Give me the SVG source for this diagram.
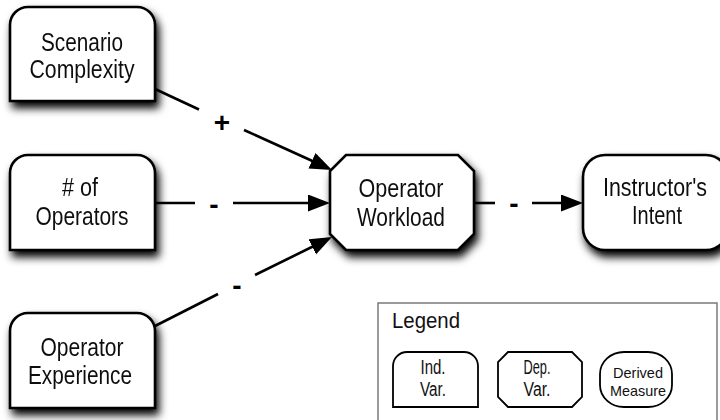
<svg xmlns="http://www.w3.org/2000/svg" width="720" height="420" viewBox="0 0 720 420">
  <defs>
    <filter id="shadow" x="-20%" y="-20%" width="150%" height="160%">
      <feGaussianBlur in="SourceAlpha" stdDeviation="4"/>
      <feOffset dx="3" dy="6" result="blur"/>
      <feComponentTransfer><feFuncA type="linear" slope="1"/></feComponentTransfer>
      <feMerge><feMergeNode/><feMergeNode in="SourceGraphic"/></feMerge>
    </filter>
    <marker id="arrow" markerUnits="userSpaceOnUse" markerWidth="24" markerHeight="18" refX="12" refY="8.5" orient="auto">
      <path d="M0,0 L22,8.5 L0,17 z" fill="#000"/>
    </marker>
    <style>
      .node { fill: #fff; stroke: #000; stroke-width: 2.6; }
      .leg { fill: #fff; stroke: #000; stroke-width: 1.8; }
      .lbl { font-family: "Liberation Sans", Arial, sans-serif; font-size: 26px; fill: #111; text-anchor: middle; }
      .leglbl { font-family: "Liberation Sans", Arial, sans-serif; font-size: 20px; fill: #111; text-anchor: middle; }
      .small { font-family: "Liberation Sans", Arial, sans-serif; font-size: 15px; fill: #111; text-anchor: middle; }
      .sign { font-family: "Liberation Sans", Arial, sans-serif; font-size: 28px; font-weight: bold; fill: #000; text-anchor: middle; }
      .edge { stroke: #000; stroke-width: 2.6; fill: none; }
    </style>
  </defs>

  <rect width="720" height="420" fill="#fff"/>

  <!-- connectors -->
  <g id="connectors">
    <line class="edge" x1="155" y1="89" x2="199" y2="109.5"/>
    <line class="edge" x1="244" y1="130" x2="322.9" y2="165.8" marker-end="url(#arrow)"/>
    <text class="sign" x="222" y="132">+</text>

    <line class="edge" x1="155" y1="203" x2="195" y2="203"/>
    <line class="edge" x1="233" y1="203" x2="320" y2="203" marker-end="url(#arrow)"/>
    <text class="sign" x="214" y="214">-</text>

    <line class="edge" x1="155" y1="326" x2="218" y2="294"/>
    <line class="edge" x1="255" y1="275" x2="323" y2="241.5" marker-end="url(#arrow)"/>
    <text class="sign" x="237" y="295">-</text>

    <line class="edge" x1="474" y1="203" x2="495" y2="203"/>
    <line class="edge" x1="532" y1="203" x2="573" y2="203" marker-end="url(#arrow)"/>
    <text class="sign" x="514" y="213">-</text>
  </g>

  <!-- independent variables: rounded top, square bottom -->
  <g id="scenario-complexity" filter="url(#shadow)">
    <path class="node" d="M10,101 V25 A18,18 0 0 1 28,7 H137 A18,18 0 0 1 155,25 V101 Z"/>
    <text class="lbl" x="82" y="51" textLength="82" lengthAdjust="spacingAndGlyphs">Scenario</text>
    <text class="lbl" x="82" y="78" textLength="105" lengthAdjust="spacingAndGlyphs">Complexity</text>
  </g>

  <g id="num-operators" filter="url(#shadow)">
    <path class="node" d="M10,250 V173 A18,18 0 0 1 28,155 H137 A18,18 0 0 1 155,173 V250 Z"/>
    <text class="lbl" x="80" y="196" textLength="36" lengthAdjust="spacingAndGlyphs"># of</text>
    <text class="lbl" x="82" y="225" textLength="93" lengthAdjust="spacingAndGlyphs">Operators</text>
  </g>

  <g id="operator-experience" filter="url(#shadow)">
    <path class="node" d="M10,408 V331 A18,18 0 0 1 28,313 H137 A18,18 0 0 1 155,331 V408 Z"/>
    <text class="lbl" x="82" y="356" textLength="83" lengthAdjust="spacingAndGlyphs">Operator</text>
    <text class="lbl" x="80" y="384" textLength="104" lengthAdjust="spacingAndGlyphs">Experience</text>
  </g>

  <!-- dependent variable: octagon -->
  <g id="operator-workload" filter="url(#shadow)">
    <path class="node" d="M346,155 H458 L474,171 V234 L458,250 H346 L330,234 V171 Z"/>
    <text class="lbl" x="401" y="197" textLength="85" lengthAdjust="spacingAndGlyphs">Operator</text>
    <text class="lbl" x="401" y="226" textLength="88" lengthAdjust="spacingAndGlyphs">Workload</text>
  </g>

  <!-- derived measure: fully rounded -->
  <g id="instructors-intent" filter="url(#shadow)">
    <rect class="node" x="583" y="155" width="145" height="95" rx="22" ry="22"/>
    <text class="lbl" x="655" y="196" textLength="104" lengthAdjust="spacingAndGlyphs">Instructor's</text>
    <text class="lbl" x="657" y="224" textLength="50" lengthAdjust="spacingAndGlyphs">Intent</text>
  </g>

  <!-- legend -->
  <g id="legend">
    <rect x="378" y="303" width="339" height="130" fill="#fff" stroke="#7a7a7a" stroke-width="1.5"/>
    <text x="392" y="328" font-family="Liberation Sans, Arial, sans-serif" font-size="22" fill="#111" textLength="68" lengthAdjust="spacingAndGlyphs">Legend</text>

    <path class="leg" d="M393,407 V366 A14,14 0 0 1 407,352 H464 A14,14 0 0 1 478,366 V407 Z"/>
    <text class="leglbl" x="433" y="374" textLength="25" lengthAdjust="spacingAndGlyphs">Ind.</text>
    <text class="leglbl" x="433" y="396" textLength="26" lengthAdjust="spacingAndGlyphs">Var.</text>

    <path class="leg" d="M508,352 H572 L582,362 V397 L572,407 H508 L498,397 V362 Z"/>
    <text class="leglbl" x="537" y="374" textLength="27" lengthAdjust="spacingAndGlyphs">Dep.</text>
    <text class="leglbl" x="537" y="396" textLength="27" lengthAdjust="spacingAndGlyphs">Var.</text>

    <rect class="leg" x="600" y="352" width="72" height="55" rx="24" ry="22"/>
    <text class="small" x="638" y="378" textLength="50" lengthAdjust="spacingAndGlyphs">Derived</text>
    <text class="small" x="638" y="396" textLength="56" lengthAdjust="spacingAndGlyphs">Measure</text>
  </g>
</svg>
